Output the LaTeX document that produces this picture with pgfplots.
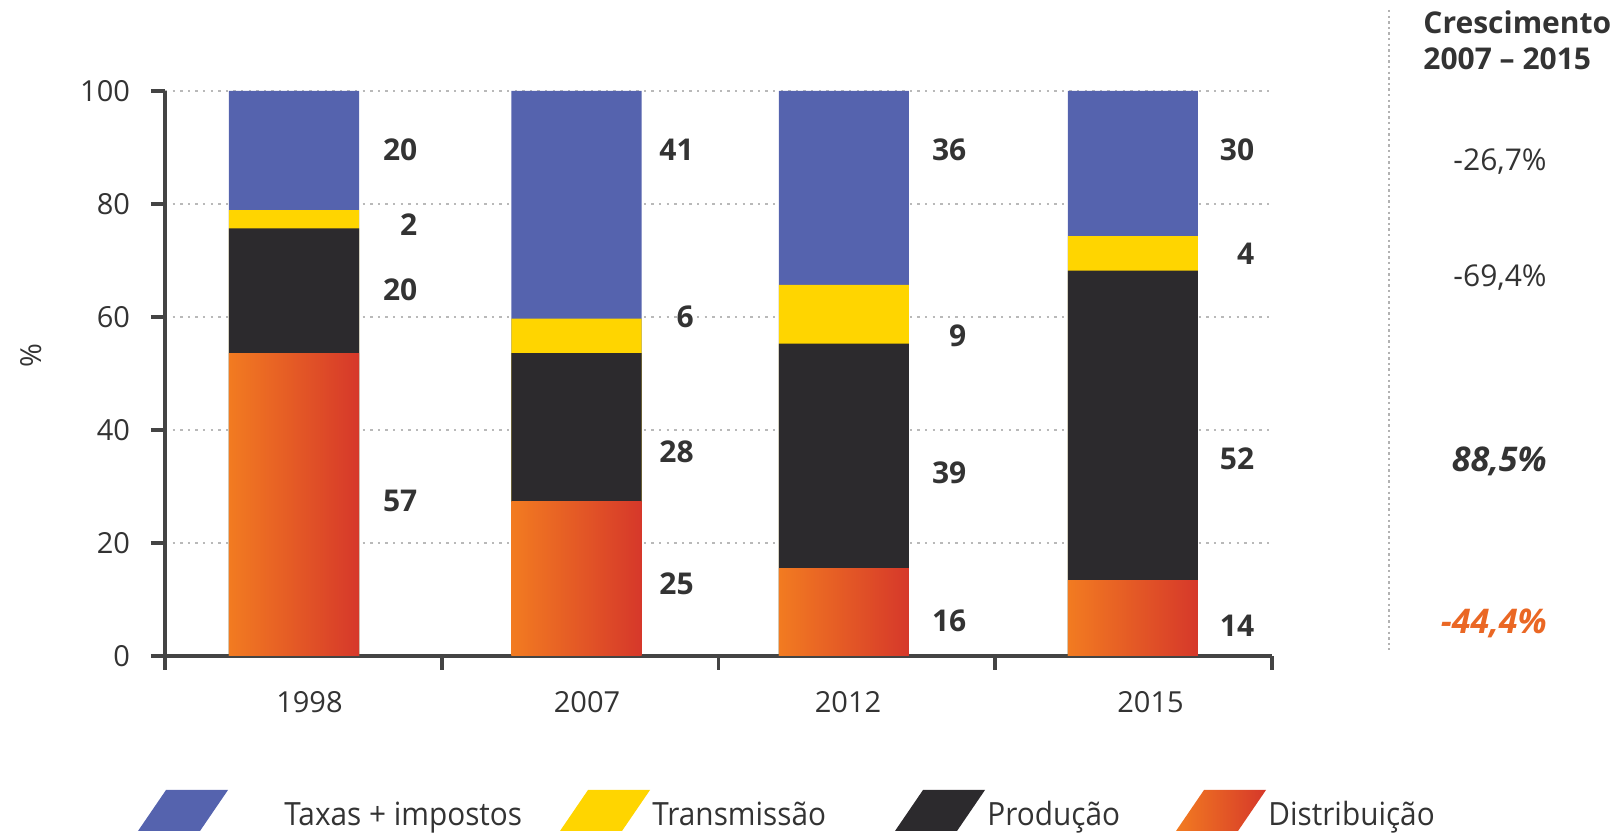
\documentclass[border=0pt]{standalone}
\usepackage{fontspec}
\setmainfont{Open Sans}
\newfontfamily\legfont[FakeStretch=0.93]{Open Sans}
\usepackage{pgfplots}
\usepackage{pgfplotstable}
\pgfplotsset{compat=1.18}
\definecolor{cblue}{HTML}{5563AE}
\definecolor{cyellow}{HTML}{FFD500}
\definecolor{cblack}{HTML}{2C2A2D}
\definecolor{corange}{HTML}{F27B21}
\definecolor{cred}{HTML}{D6382A}
\definecolor{ctext}{HTML}{333333}
\definecolor{caxis}{HTML}{444444}
\tikzset{vl/.style={anchor=east, font=\bfseries\fontsize{15}{15}\selectfont, text=ctext, inner sep=0pt}}
% cumulative tops of each stacked segment (Distribuicao, +Producao, +Transmissao, +Taxas)
\pgfplotstableread{
x      dist  prod  trans tax
0.466  53.5  75.7  78.9  100
1.487  27.4  53.6  59.7  100
2.453  15.4  55.3  65.7  100
3.497  13.3  68.2  74.3  100
}\datatable
\begin{document}
\begin{tikzpicture}
\begin{axis}[
  scale only axis, width=553.5pt, height=282.5pt,
  xmin=0, xmax=4, ymin=0, ymax=100,
  every axis plot/.append style={ybar, bar width=0.47, bar shift=0pt, draw=none},
  clip=false,
  axis x line*=bottom, axis y line*=left,
  axis line style={caxis, line width=1.8pt},
  tick style={caxis, line width=1.8pt},
  major tick length=7pt,
  tick align=outside,
  xtick={0.522,1.525,2.468,3.561}, xticklabels={1998,2007,2012,2015},
  xtick style={draw=none},
  extra x ticks={0,1,2,3,4}, extra x tick labels={},
  extra x tick style={xtick style={draw=caxis, line width=1.8pt}},
  ytick={0,20,40,60,80,100},
  ymajorgrids,
  grid style={dash pattern=on 1.2pt off 2.6pt, gray!55, line width=1.1pt},
  /pgf/number format/assume math mode=true,
  ticklabel style={font=\fontsize{14.5}{14.5}\selectfont, text=ctext},
  xticklabel style={yshift=-7pt},
  yticklabel style={xshift=-7pt},
]
\addplot[fill=cblue] table[x=x, y=tax] {\datatable};
\addplot[fill=cyellow] table[x=x, y=trans] {\datatable};
\addplot[fill=cblack] table[x=x, y=prod] {\datatable};
\addplot[left color=corange, right color=cred] table[x=x, y=dist, skip coords between index={1}{4}] {\datatable};
\addplot[left color=corange, right color=cred] table[x=x, y=dist, skip coords between index={0}{1}, skip coords between index={2}{4}] {\datatable};
\addplot[left color=corange, right color=cred] table[x=x, y=dist, skip coords between index={0}{2}, skip coords between index={3}{4}] {\datatable};
\addplot[left color=corange, right color=cred] table[x=x, y=dist, skip coords between index={0}{3}] {\datatable};

\node[vl] at (axis cs:0.913,89.6) {20};
\node[vl] at (axis cs:0.913,76.3) {2};
\node[vl] at (axis cs:0.913,64.8) {20};
\node[vl] at (axis cs:0.913,27.4) {57};
\node[vl] at (axis cs:1.912,89.6) {41};
\node[vl] at (axis cs:1.912,60.0) {6};
\node[vl] at (axis cs:1.912,36.1) {28};
\node[vl] at (axis cs:1.912,12.8) {25};
\node[vl] at (axis cs:2.897,89.6) {36};
\node[vl] at (axis cs:2.897,56.6) {9};
\node[vl] at (axis cs:2.897,32.5) {39};
\node[vl] at (axis cs:2.897,6.2) {16};
\node[vl] at (axis cs:3.937,89.6) {30};
\node[vl] at (axis cs:3.937,71.2) {4};
\node[vl] at (axis cs:3.937,34.9) {52};
\node[vl] at (axis cs:3.937,5.3) {14};
\coordinate (O) at (rel axis cs:0,0);
\end{axis}
\begin{scope}[shift={(O)}, xshift=-82.5pt, yshift=328pt, x=0.5pt, y=-0.5pt]
\pgfresetboundingbox
\useasboundingbox (0,0) rectangle (1617,833);
% y label
\node[rotate=90, font=\fontsize{14.5}{14.5}\selectfont, text=ctext] at (31,356) {\%};
% legend
\fill[cblue] (138,831) -- (200,831) -- (228,790) -- (166,790) -- cycle;
\fill[cyellow] (560,831) -- (622,831) -- (650,790) -- (588,790) -- cycle;
\fill[cblack] (895,831) -- (957,831) -- (985,790) -- (923,790) -- cycle;
\shade[left color=corange, right color=cred] (1176,831) -- (1238,831) -- (1266,790) -- (1204,790) -- cycle;
\begin{scope}[every node/.style={anchor=base west, font=\legfont\fontsize{16}{16}\selectfont, text=ctext, inner sep=0pt}]
\node at (284,826) {Taxas + impostos};
\node at (652,826) {Transmissão};
\node at (987,826) {Produção};
\node at (1268,826) {Distribuição};
\end{scope}
% right panel
\draw[gray!60, line width=1.3pt, dash pattern=on 1.2pt off 1.6pt] (1389,10) -- (1389,650);
\node[anchor=base west, inner sep=0pt, font=\bfseries\fontsize{15}{15}\selectfont, text=ctext] at (1423,34) {Crescimento};
\node[anchor=base west, inner sep=0pt, font=\bfseries\fontsize{15}{15}\selectfont, text=ctext] at (1423,70) {2007 – 2015};
\begin{scope}[every node/.style={anchor=east, inner sep=0pt, font=\fontsize{15}{15}\selectfont, text=ctext}]
\node at (1547,162) {-26,7\%};
\node at (1547,278) {-69,4\%};
\node[font=\bfseries\itshape\fontsize{17}{17}\selectfont] at (1547,461) {88,5\%};
\node[font=\bfseries\itshape\fontsize{17}{17}\selectfont, text=corange!70!cred] at (1547,623) {-44,4\%};
\end{scope}
\end{scope}
\end{tikzpicture}
\end{document}
